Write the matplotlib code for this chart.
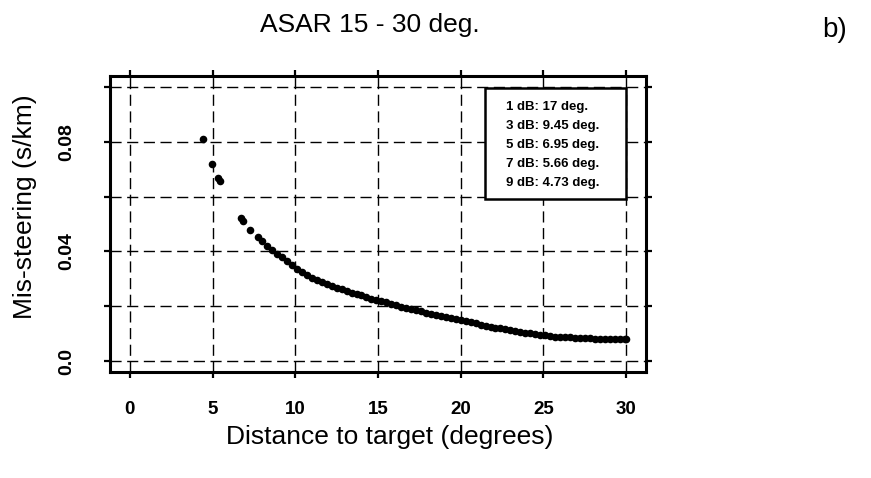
import numpy as np
import matplotlib.pyplot as plt
from matplotlib.patches import Rectangle

# valores (distancia en grados, mis-steering en s/km)
distancia = [4.45, 4.96, 5.32, 5.42, 6.72, 6.84, 7.29, 7.73, 8.0, 8.3, 8.6, 8.9,
             9.2, 9.5, 9.8, 10.1, 10.4, 10.7, 11.0, 11.3, 11.6, 11.9, 12.2, 12.5,
             12.8, 13.1, 13.4, 13.7, 14.0, 14.3, 14.6, 14.9, 15.2, 15.5, 15.8, 16.1,
             16.4, 16.7, 17.0, 17.3, 17.6, 17.9, 18.2, 18.5, 18.8, 19.1, 19.4, 19.7,
             20.0, 20.3, 20.6, 20.9, 21.2, 21.5, 21.8, 22.1, 22.4, 22.7, 23.0, 23.3,
             23.6, 23.9, 24.2, 24.5, 24.8, 25.1, 25.4, 25.7, 26.0, 26.3, 26.6, 26.9,
             27.2, 27.5, 27.8, 28.1, 28.4, 28.7, 29.0, 29.3, 29.6, 29.9, 30.0]
missteer = [0.0810, 0.0720, 0.0669, 0.0657, 0.0521, 0.0512, 0.0478, 0.0454, 0.0438,
            0.0420, 0.0405, 0.0390, 0.0378, 0.0364, 0.0350, 0.0336, 0.0324, 0.0313,
            0.0304, 0.0296, 0.0289, 0.0282, 0.0275, 0.0268, 0.0262, 0.0256, 0.0250,
            0.0245, 0.0240, 0.0234, 0.0228, 0.0223, 0.0219, 0.0214, 0.0209, 0.0204,
            0.0199, 0.0194, 0.0190, 0.0186, 0.0181, 0.0177, 0.0173, 0.0169, 0.0165,
            0.0161, 0.0157, 0.0153, 0.0149, 0.0145, 0.0141, 0.0137, 0.0133, 0.0129,
            0.0125, 0.0122, 0.0119, 0.0116, 0.0113, 0.0110, 0.0107, 0.0104, 0.0101,
            0.0098, 0.0096, 0.0094, 0.0091, 0.0089, 0.0088, 0.0087, 0.0086, 0.0085,
            0.0084, 0.0083, 0.0083, 0.0082, 0.0082, 0.0081, 0.0081, 0.0080, 0.0080,
            0.0079, 0.0079]

xticks = [0, 5, 10, 15, 20, 25, 30]
yticks = [0.0, 0.02, 0.04, 0.06, 0.08, 0.10]
ytick_labels = ['0.0', '', '0.04', '', '0.08', '']
leyenda = ['1 dB: 17 deg.', '3 dB: 9.45 deg.', '5 dB: 6.95 deg.',
           '7 dB: 5.66 deg.', '9 dB: 4.73 deg.']

plt.rcParams['font.family'] = ['Liberation Sans', 'DejaVu Sans']

fig = plt.figure(figsize=(8.71, 4.78), dpi=100)
ax = fig.add_axes([0.1263, 0.2218, 0.6154, 0.619])
ax.set_xlim(-1.2, 31.2)
ax.set_ylim(-0.004, 0.104)

ax.set_xticks(xticks)
ax.set_xticklabels([str(t) for t in xticks])
ax.set_yticks(yticks)
ax.set_yticklabels(ytick_labels)
ax.tick_params(direction='out', length=4, width=1.6, top=True, right=True,
               labelsize=13.5, pad=17)
ax.tick_params(axis='y', labelrotation=90, pad=21, labelsize=14)
for t in ax.get_xticklabels() + ax.get_yticklabels():
    t.set_fontweight('bold')
for t in ax.get_yticklabels():
    t.set_va('center')

for s in ax.spines.values():
    s.set_linewidth(2.2)

ax.set_axisbelow(True)
ax.grid(True, color='black', linestyle=(0, (8, 4)), linewidth=1.0)

ax.scatter(distancia, missteer, s=30, color='black', linewidths=0, zorder=4)

# caja de leyenda
ax.add_patch(Rectangle((0.700, 0.584), 0.263, 0.375, transform=ax.transAxes,
                       facecolor='white', edgecolor='black', linewidth=1.8, zorder=5))
ys = [0.895, 0.831, 0.767, 0.703, 0.639]
for txt, yy in zip(leyenda, ys):
    ax.text(0.739, yy, txt, transform=ax.transAxes, fontsize=9.5, fontweight='bold',
            va='center', ha='left', zorder=6)

fig.text(370 / 871, 1 - 25 / 478, 'ASAR 15 - 30 deg.', fontsize=19,
         ha='center', va='center')
fig.text(835 / 871, 1 - 30 / 478, 'b)', fontsize=20, ha='center', va='center')
fig.text(390 / 871, 1 - 437 / 478, 'Distance to target (degrees)', fontsize=19,
         ha='center', va='center')
fig.text(25 / 871, 1 - 207 / 478, 'Mis-steering (s/km)', fontsize=19,
         ha='center', va='center', rotation=90)

fig.savefig('out.png', dpi=100)
